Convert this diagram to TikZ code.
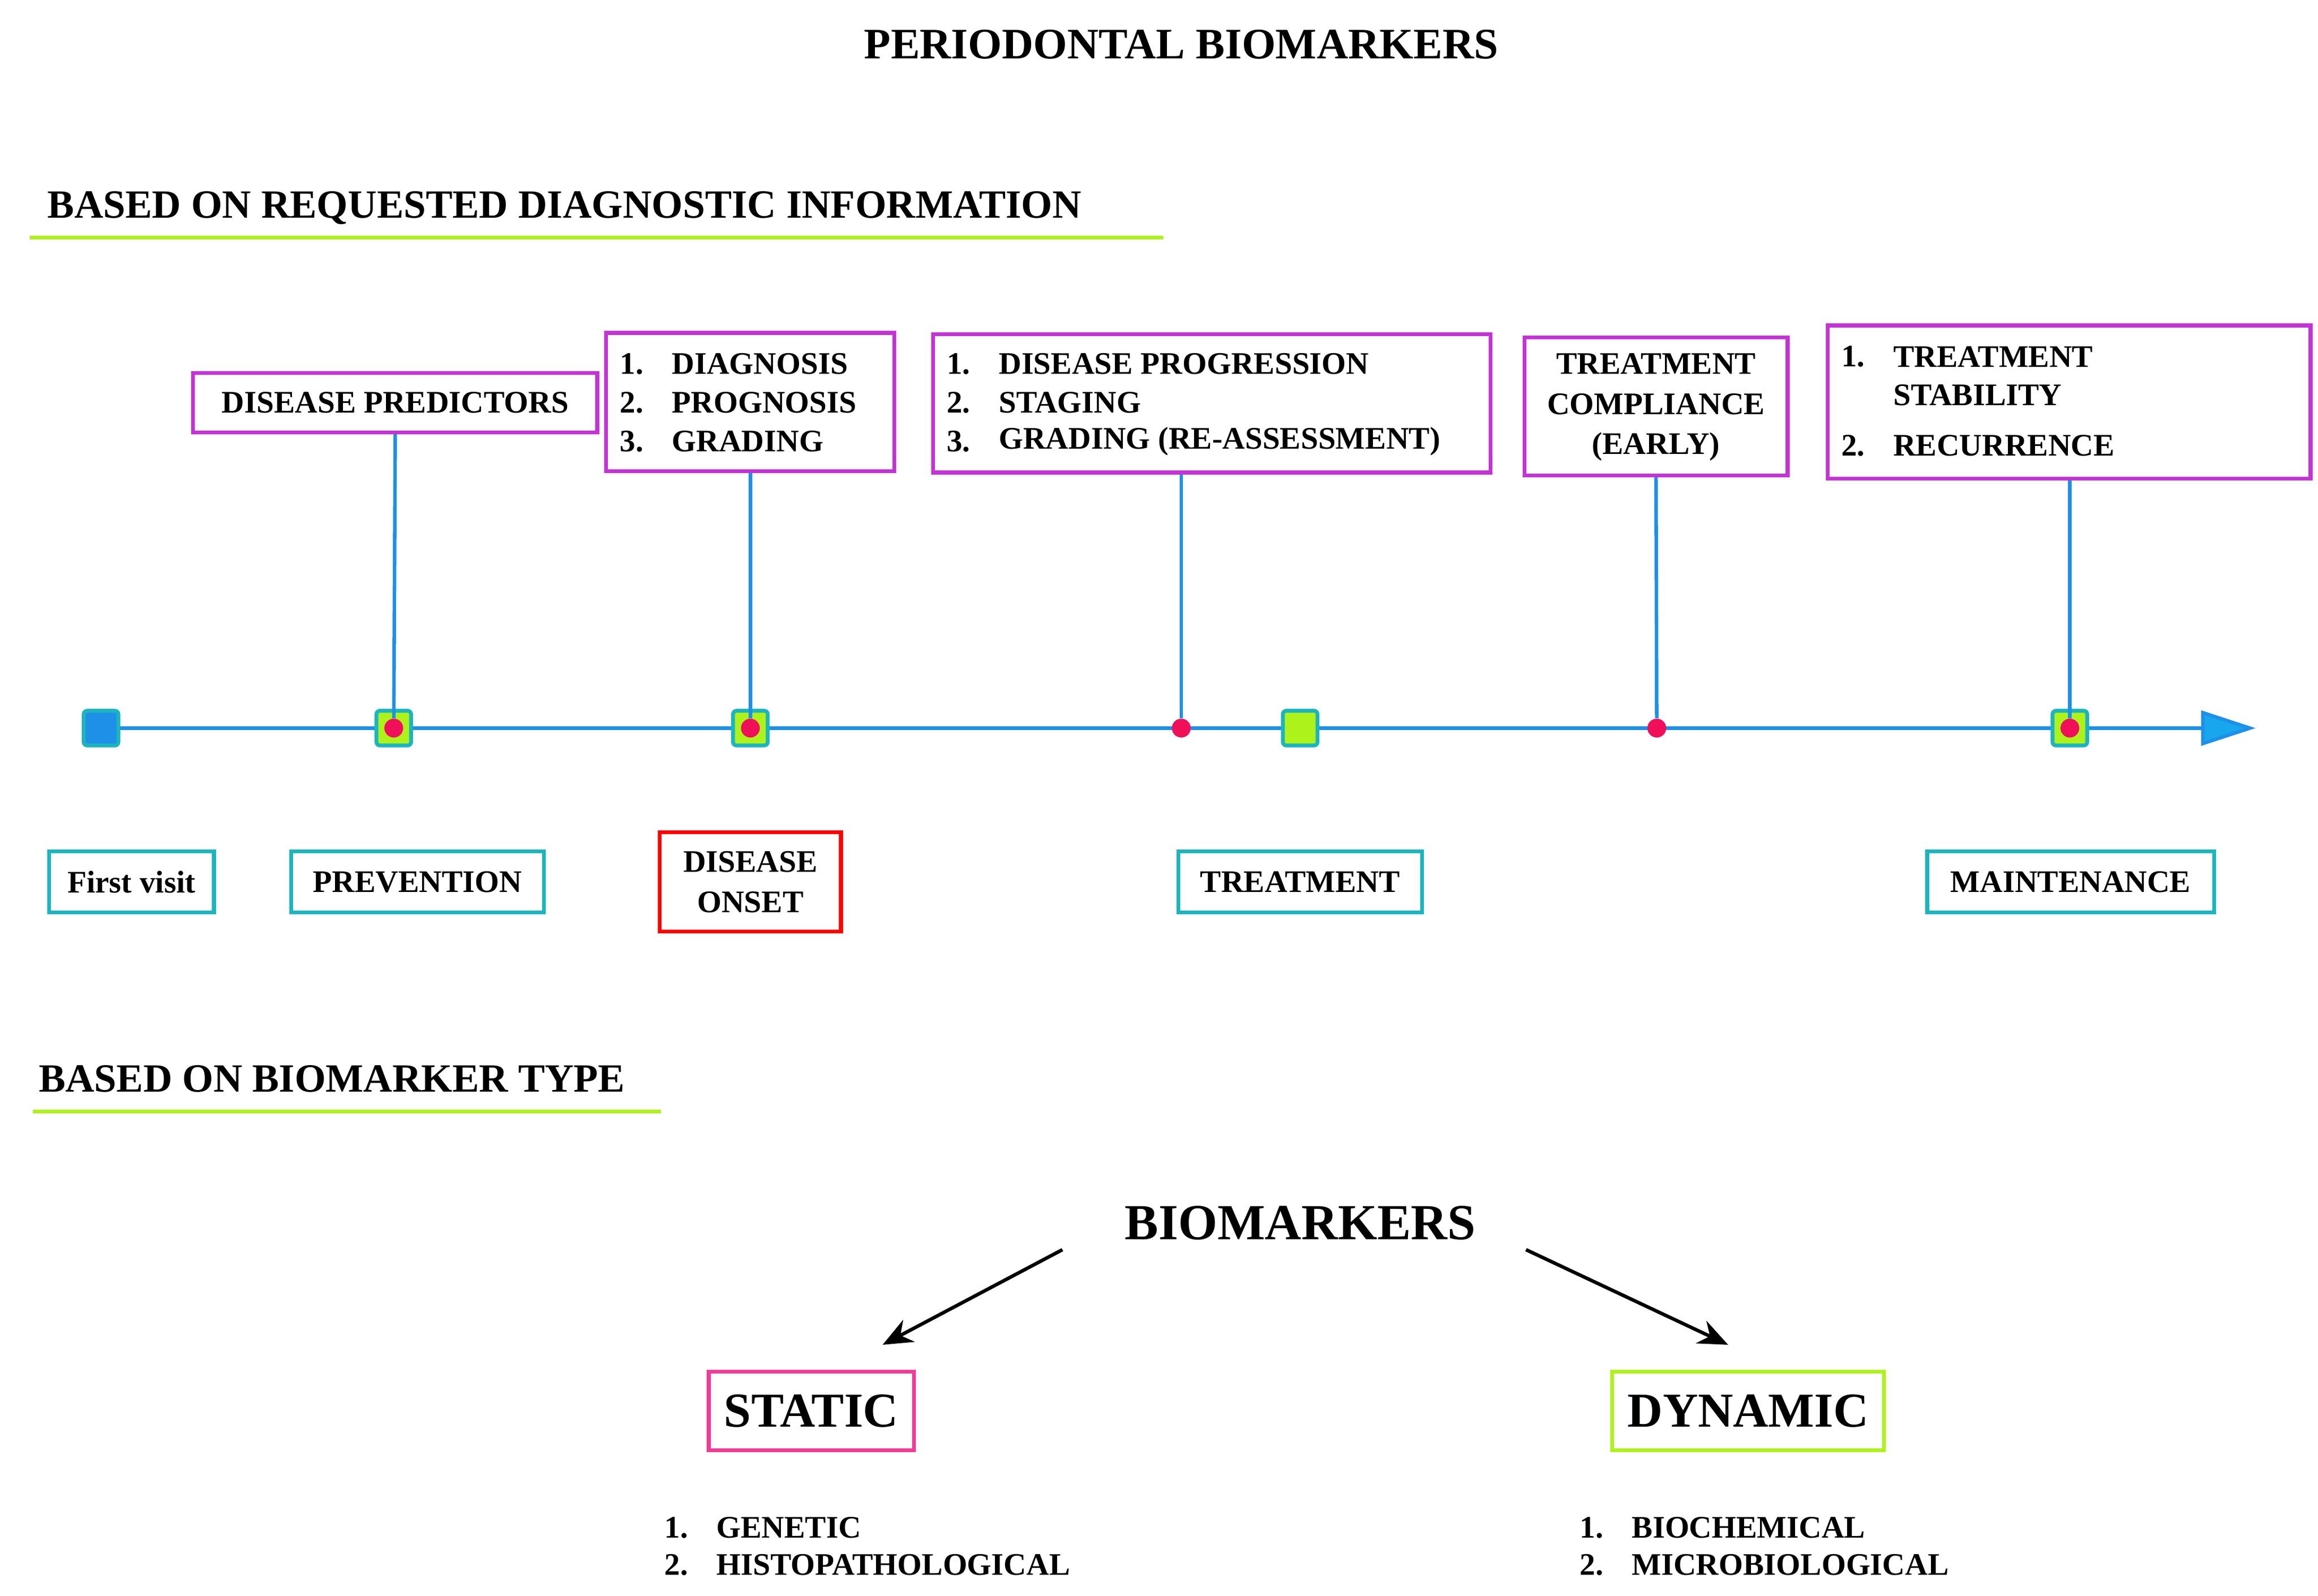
\documentclass[tikz,border=0pt]{standalone}
\usepackage{fontspec}
\setmainfont{Liberation Serif}
\usetikzlibrary{arrows.meta}
\definecolor{pur}{HTML}{C433D6}
\definecolor{tl}{HTML}{1CB5BE}
\definecolor{ln}{HTML}{1E90E8}
\definecolor{gr}{HTML}{AEF21C}
\definecolor{rd}{HTML}{F0105A}
\definecolor{pk}{HTML}{F03C96}
\begin{document}
\begin{tikzpicture}[x=0.03cm,y=-0.03cm,
  txt/.style={font=\bfseries\fontsize{18}{22}\selectfont,inner sep=0},
  box/.style={draw,line width=2.2pt},
  pbox/.style={box,draw=pur},
  tbox/.style={box,draw=tl},
  sq/.style={draw=tl,line width=2.2pt,rounded corners=2pt,minimum size=0.7cm,inner sep=0},
  dot/.style={circle,fill=rd,inner sep=0,minimum width=0.32cm,minimum height=0.38cm},
  vl/.style={ln,line width=2pt}]
\useasboundingbox (0,0) rectangle (1560,1074);
\node[font=\bfseries\fontsize{25}{30}\selectfont] (title) at (795,30) {PERIODONTAL BIOMARKERS};
\node[font=\bfseries\fontsize{23}{27}\selectfont,anchor=west] (h1) at (28,140) {BASED ON REQUESTED DIAGNOSTIC INFORMATION};
\draw[gr,line width=2.2pt] (20,160) coordinate (u1a) -- (783,160) coordinate (u1b);
% timeline
\coordinate (t0) at (68,490);
\coordinate (tend) at (1518,490);
\draw[ln,line width=2pt,-{Triangle[length=1.1cm,width=0.7cm,fill=ln!80!cyan]}] (t0) -- (tend);
\node[sq,fill=ln] (s0) at (68,490) {};
\node[sq,fill=gr] (s1) at (265,490) {};
\node[sq,fill=gr] (s2) at (505,490) {};
\node[sq,fill=gr] (s3) at (875,490) {};
\node[sq,fill=gr] (s4) at (1393,490) {};
\node[dot] (d1) at (265,490) {};
\node[dot] (d2) at (505,490) {};
\node[dot] (d3) at (795,490) {};
\node[dot] (d4) at (1115,490) {};
\node[dot] (d5) at (1393,490) {};
% purple boxes
\node[pbox,txt,minimum width=272*0.03cm,minimum height=40*0.03cm] (b1) at (266,271) {DISEASE PREDICTORS};
\node[pbox,minimum width=194*0.03cm,minimum height=93*0.03cm] (b2) at (505,270.5) {};
\node[txt,anchor=west] at (417,245) {1.}; \node[txt,anchor=west] at (452,245) {DIAGNOSIS};
\node[txt,anchor=west] at (417,271) {2.}; \node[txt,anchor=west] at (452,271) {PROGNOSIS};
\node[txt,anchor=west] at (417,297) {3.}; \node[txt,anchor=west] at (452,297) {GRADING};
\node[pbox,minimum width=375*0.03cm,minimum height=93*0.03cm] (b3) at (815.5,271.5) {};
\node[txt,anchor=west] at (637,245) {1.}; \node[txt,anchor=west] at (672,245) {DISEASE PROGRESSION};
\node[txt,anchor=west] at (637,271) {2.}; \node[txt,anchor=west] at (672,271) {STAGING};
\node[txt,anchor=west] at (637,297) {3.}; \node[txt,anchor=west] at (672,297) {GRADING (RE-ASSESSMENT)};
\node[pbox,minimum width=177*0.03cm,minimum height=93*0.03cm] (b4) at (1114.5,273.5) {};
\node[txt,align=center,font=\bfseries\fontsize{18}{23}\selectfont] at (1114.5,274) {TREATMENT\\COMPLIANCE\\(EARLY)};
\node[pbox,minimum width=325*0.03cm,minimum height=103*0.03cm] (b5) at (1392.5,270.5) {};
\node[txt,anchor=west] at (1239,240) {1.}; \node[txt,anchor=west] at (1274,240) {TREATMENT};
\node[txt,anchor=west] at (1274,266) {STABILITY};
\node[txt,anchor=west] at (1239,300) {2.}; \node[txt,anchor=west] at (1274,300) {RECURRENCE};
\draw[vl] (b1.south) -- (d1);
\draw[vl] (b2.south) -- (d2);
\draw[vl] (b3.south -| d3) -- (d3);
\draw[vl] (b4.south) -- (d4);
\draw[vl] (b5.south -| d5) -- (d5);
% stage boxes
\node[tbox,txt,minimum width=111*0.03cm,minimum height=41*0.03cm] (l0) at (88.5,593.5) {First visit};
\node[tbox,txt,minimum width=170*0.03cm,minimum height=41*0.03cm] (l1) at (281,593.5) {PREVENTION};
\node[box,draw=red,txt,align=center,font=\bfseries\fontsize{18}{23}\selectfont,minimum width=122*0.03cm,minimum height=67*0.03cm] (l2) at (505,593.5) {DISEASE\\ONSET};
\node[tbox,txt,minimum width=164*0.03cm,minimum height=41*0.03cm] (l3) at (875,593.5) {TREATMENT};
\node[tbox,txt,minimum width=193*0.03cm,minimum height=41*0.03cm] (l4) at (1393.5,593.5) {MAINTENANCE};
% section 2
\node[font=\bfseries\fontsize{23}{27}\selectfont,anchor=west] (h2) at (22,726) {BASED ON BIOMARKER TYPE};
\draw[gr,line width=2.2pt] (22,748) coordinate (u2a) -- (445,748) coordinate (u2b);
\node[font=\bfseries\fontsize{29}{35}\selectfont] (bm) at (875,823) {BIOMARKERS};
\node[box,draw=pk,font=\bfseries\fontsize{28}{34}\selectfont,minimum width=138*0.03cm,minimum height=53*0.03cm,inner sep=0] (st) at (546,949.5) {STATIC};
\node[box,draw=gr,font=\bfseries\fontsize{28}{34}\selectfont,minimum width=183*0.03cm,minimum height=53*0.03cm,inner sep=0] (dy) at (1176.5,949.5) {DYNAMIC};
\coordinate (a1) at (715,841); \coordinate (a1e) at (594,905);
\coordinate (a2) at (1027,841); \coordinate (a2e) at (1163,905);
\draw[line width=2pt,-{Stealth[length=0.6cm,width=0.5cm]}] (a1) -- (a1e);
\draw[line width=2pt,-{Stealth[length=0.6cm,width=0.5cm]}] (a2) -- (a2e);
\node[txt,anchor=west] at (447,1028) {1.}; \node[txt,anchor=west] at (482,1028) {GENETIC};
\node[txt,anchor=west] at (447,1053) {2.}; \node[txt,anchor=west] at (482,1053) {HISTOPATHOLOGICAL};
\node[txt,anchor=west] at (1063,1028) {1.}; \node[txt,anchor=west] at (1098,1028) {BIOCHEMICAL};
\node[txt,anchor=west] at (1063,1053) {2.}; \node[txt,anchor=west] at (1098,1053) {MICROBIOLOGICAL};
\end{tikzpicture}
\end{document}
